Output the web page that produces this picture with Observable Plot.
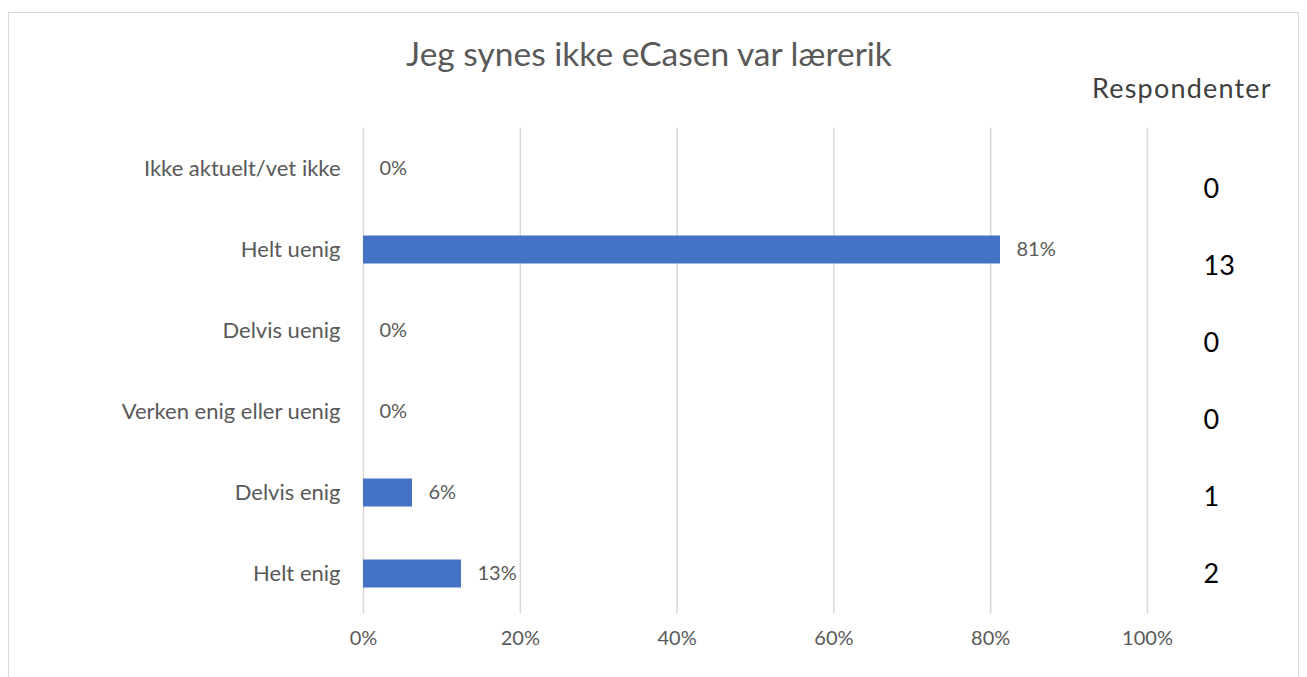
<!DOCTYPE html>
<html>
<head>
<meta charset="utf-8">
<script src="https://cdn.jsdelivr.net/npm/d3@7"></script>
<script src="https://cdn.jsdelivr.net/npm/@observablehq/plot@0.6"></script>
<style>
  html, body { margin: 0; padding: 0; background: #fff; }
  #wrap { position: relative; width: 1307px; height: 677px; overflow: hidden; font-family: Lato, "Open Sans", sans-serif; }
  #border { position: absolute; left: 8px; top: 12px; width: 1291px; height: 700px; border: 1px solid #d9d9d9; box-sizing: border-box; }
  #title { position: absolute; left: 0; top: 37px; width: 1298px; text-align: center; font-size: 33.5px; line-height: 1; color: #595959; }
  #resp { position: absolute; left: 1092px; top: 74px; font-size: 27px; line-height: 1; color: #404040; letter-spacing: 1.2px; }
  #main, #counts { position: absolute; top: 0; }
  #main { left: 0; }
  #counts { left: 1150px; }
</style>
</head>
<body>
<div id="wrap">
  <div id="border"></div>
  <div id="title">Jeg synes ikke eCasen var lærerik</div>
  <div id="resp">Respondenter</div>
  <div id="main"></div>
  <div id="counts"></div>
</div>
<script>
const categories = ["Ikke aktuelt/vet ikke", "Helt uenig", "Delvis uenig", "Verken enig eller uenig", "Delvis enig", "Helt enig"];
const percents = [0, 81.25, 0, 0, 6.25, 12.5];
const percentLabels = ["0%", "81%", "0%", "0%", "6%", "13%"];
const respondents = [0, 13, 0, 0, 1, 2];
const xTicks = [0, 20, 40, 60, 80, 100];
const xTickLabels = ["0%", "20%", "40%", "60%", "80%", "100%"];

const rows = categories.map((c, i) => ({cat: c, pct: percents[i], label: percentLabels[i], n: respondents[i]}));
const ticks = xTicks.map((t, i) => ({t, label: xTickLabels[i]}));

const gray = "#595959";
const font = "Lato, 'Open Sans', sans-serif";

const main = Plot.plot({
  width: 1307,
  height: 677,
  marginLeft: 363,
  marginRight: 160,
  marginTop: 127.5,
  marginBottom: 63.5,
  style: {fontFamily: font, background: "transparent"},
  x: {domain: [0, 100], axis: null},
  y: {type: "band", domain: categories, padding: 0, axis: null},
  marks: [
    Plot.ruleX(ticks, {x: "t", stroke: "#d9d9d9", strokeWidth: 1.5}),
    Plot.barX(rows, {x: "pct", y: "cat", fill: "#4472C4", insetTop: 26.5, insetBottom: 26.5}),
    Plot.text(rows, {x: "pct", y: "cat", text: "label", dx: 16, textAnchor: "start", fill: gray, fontSize: 20}),
    Plot.text(rows, {y: "cat", text: "cat", frameAnchor: "left", dx: -23, textAnchor: "end", fill: gray, fontSize: 22}),
    Plot.text(ticks, {x: "t", text: "label", frameAnchor: "bottom", dy: 31, fill: gray, fontSize: 20})
  ]
});
document.getElementById("main").appendChild(main);

const counts = Plot.plot({
  width: 150,
  height: 677,
  marginLeft: 0,
  marginRight: 0,
  marginTop: 148.3,
  marginBottom: 64.3,
  style: {fontFamily: font, background: "transparent"},
  x: {axis: null},
  y: {type: "band", domain: categories, padding: 0, axis: null},
  marks: [
    Plot.text(rows, {y: "cat", text: d => String(d.n), frameAnchor: "left", dx: 53, textAnchor: "start", fill: "#000", fontSize: 27})
  ]
});
document.getElementById("counts").appendChild(counts);
</script>
</body>
</html>
